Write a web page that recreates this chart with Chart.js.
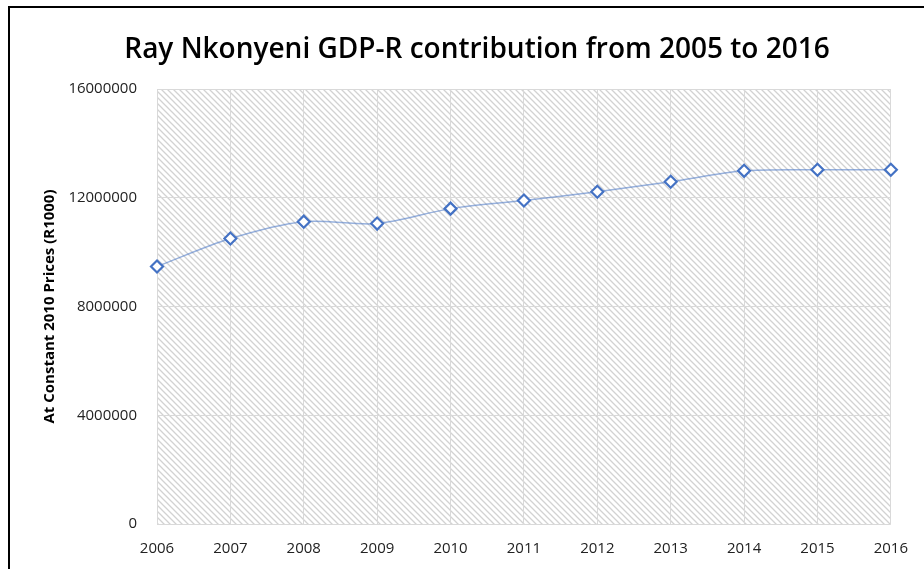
<!DOCTYPE html>
<html>
<head>
<meta charset="utf-8">
<script src="https://cdn.jsdelivr.net/npm/chart.js@4/dist/chart.umd.min.js"></script>
<style>
    html, body { margin: 0; padding: 0; background: #fff; }
    #frame {
        position: absolute; left: 8px; top: 6px; width: 930px; height: 580px;
        border-left: 2px solid #000; border-top: 2px solid #000;
    }
    #wrap { position: absolute; left: 0; top: 0; width: 924px; height: 569px; }
</style>
</head>
<body>
<div id="frame"></div>
<div id="wrap"><canvas id="gdpChart" width="924" height="569"></canvas></div>
<script>
// Data
const years = ['2006', '2007', '2008', '2009', '2010', '2011', '2012', '2013', '2014', '2015', '2016'];
const gdpValues = [9470000, 10500000, 11120000, 11050000, 11600000, 11900000, 12220000, 12590000, 12990000, 13030000, 13030000];
const yTicks = [0, 4000000, 8000000, 12000000, 16000000];
const chartTitle = 'Ray Nkonyeni GDP-R contribution from 2005 to 2016';

// diagonal hatch for the plot area
function makeHatch() {
    const c = document.createElement('canvas');
    c.width = 6; c.height = 6;
    const g = c.getContext('2d');
    g.fillStyle = '#ffffff';
    g.fillRect(0, 0, 6, 6);
    g.strokeStyle = '#d2d2d2';
    g.lineWidth = 1.3;
    g.beginPath();
    g.moveTo(-1, -1); g.lineTo(7, 7);
    g.moveTo(-1, 5); g.lineTo(1, 7);
    g.moveTo(5, -1); g.lineTo(7, 1);
    g.stroke();
    return g.createPattern(c, 'repeat');
}

const hatchPlugin = {
    id: 'hatch',
    beforeDraw(chart) {
        const a = chart.chartArea;
        const ctx = chart.ctx;
        ctx.save();
        ctx.fillStyle = makeHatch();
        ctx.fillRect(a.left, a.top, a.right - a.left, a.bottom - a.top);
        ctx.restore();
    }
};

// title sits a bit right of the canvas centre in the original
const titlePlugin = {
    id: 'bigTitle',
    afterDraw(chart) {
        const ctx = chart.ctx;
        ctx.save();
        ctx.font = '600 28px "Open Sans"';
        ctx.fillStyle = '#000';
        ctx.textAlign = 'center';
        ctx.textBaseline = 'middle';
        ctx.fillText(chartTitle, 477, 50);
        ctx.restore();
    }
};

const ctx = document.getElementById('gdpChart').getContext('2d');
new Chart(ctx, {
    type: 'line',
    data: {
        labels: years,
        datasets: [{
            data: gdpValues,
            borderColor: 'rgba(68, 114, 196, 0.55)',
            borderWidth: 1.5,
            tension: 0.3,
            pointStyle: 'rectRot',
            pointRadius: 6,
            pointBorderWidth: 2.2,
            pointBorderColor: '#4472c4',
            pointBackgroundColor: '#ffffff'
        }]
    },
    options: {
        responsive: false,
        animation: false,
        layout: { padding: { left: 41, right: 33, top: 89, bottom: 10 } },
        plugins: {
            legend: { display: false },
            tooltip: { enabled: false },
            title: { display: false }
        },
        scales: {
            x: {
                offset: false,
                afterFit(axis) { axis.height = 35; },
                grid: { color: '#d9d9d9', drawTicks: false },
                border: { display: false },
                ticks: { color: '#222', font: { family: 'Open Sans', size: 15 }, padding: 16, maxRotation: 0 }
            },
            y: {
                min: 0,
                max: 16000000,
                afterBuildTicks(axis) { axis.ticks = yTicks.map(v => ({ value: v })); },
                afterFit(axis) { axis.width = 116; },
                grid: { color: '#d9d9d9', drawTicks: false },
                border: { display: false },
                ticks: {
                    color: '#222',
                    font: { family: 'Open Sans', size: 15 },
                    padding: 20,
                    callback: v => String(v)
                },
                title: {
                    display: true,
                    text: 'At Constant 2010 Prices (R1000)',
                    color: '#000',
                    font: { family: 'Open Sans', size: 15, weight: 'bold' },
                    padding: { top: 0, bottom: 0 }
                }
            }
        }
    },
    plugins: [hatchPlugin, titlePlugin]
});
</script>
</body>
</html>
